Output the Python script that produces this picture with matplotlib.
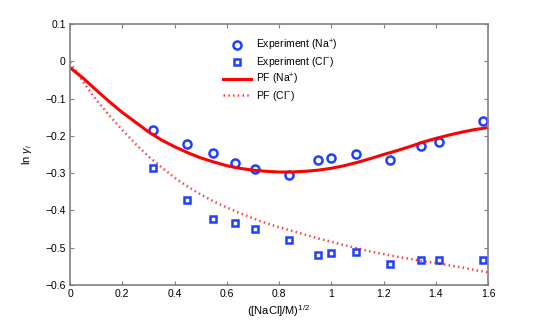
import matplotlib
matplotlib.use('Agg')
import matplotlib.pyplot as plt
from matplotlib.ticker import FuncFormatter
import numpy as np

plt.rcParams['font.family'] = ['Liberation Sans', 'DejaVu Sans']
plt.rcParams['mathtext.fontset'] = 'custom'
plt.rcParams['mathtext.rm'] = 'Liberation Sans'
plt.rcParams['mathtext.it'] = 'Liberation Sans:italic'

# experiment, x = sqrt(c)
x_exp = [0.316, 0.447, 0.548, 0.632, 0.707, 0.837, 0.949, 1.0, 1.095, 1.225, 1.342, 1.414, 1.581]
na_exp = [-0.184, -0.221, -0.245, -0.274, -0.289, -0.305, -0.266, -0.260, -0.249, -0.266, -0.228, -0.217, -0.160]
cl_exp = [-0.287, -0.371, -0.422, -0.434, -0.449, -0.478, -0.519, -0.515, -0.511, -0.545, -0.533, -0.532, -0.534]

x_pf = [0.0, 0.05, 0.1, 0.15, 0.2, 0.25, 0.3, 0.35, 0.4, 0.45, 0.5, 0.55, 0.6, 0.65, 0.7, 0.75, 0.8,
        0.85, 0.9, 0.95, 1.0, 1.05, 1.1, 1.15, 1.2, 1.25, 1.3, 1.35, 1.4, 1.45, 1.5, 1.55, 1.6]
na_pf = [-0.017, -0.045, -0.077, -0.108, -0.137, -0.163, -0.189, -0.211, -0.229, -0.245, -0.259,
         -0.270, -0.280, -0.287, -0.292, -0.295, -0.297, -0.297, -0.295, -0.292, -0.287, -0.280,
         -0.271, -0.261, -0.250, -0.240, -0.229, -0.217, -0.207, -0.198, -0.190, -0.183, -0.178]
cl_pf = [-0.003, -0.055, -0.103, -0.145, -0.184, -0.221, -0.255, -0.284, -0.312, -0.336, -0.357,
         -0.376, -0.392, -0.407, -0.421, -0.434, -0.445, -0.455, -0.465, -0.475, -0.484, -0.493,
         -0.502, -0.510, -0.517, -0.524, -0.530, -0.536, -0.541, -0.547, -0.553, -0.560, -0.566]

blue = '#2040ff'
grey = '#808080'

fig = plt.figure(figsize=(5.39, 3.21), dpi=100)
ax = fig.add_axes([70/539, 1-285/321, 418/539, 261/321])

ax.plot(x_exp, na_exp, 'o', ms=5.8, mew=1.8, mec=blue, mfc='none', label='Experiment (Na$^{+}$)')
ax.plot(x_exp, cl_exp, 's', ms=4.8, mew=1.8, mec=blue, mfc='none', label='Experiment (Cl$^{-}$)')
ax.plot(x_pf, na_pf, '-', color='red', lw=2.2, label='PF (Na$^{+}$)')
ax.plot(x_pf, cl_pf, color='red', lw=1.8, ls=(0, (0.6, 1.3)), alpha=0.75, label='PF (Cl$^{-}$)')

ax.set_xlim(0, 1.6)
ax.set_ylim(-0.6, 0.1)
ax.set_xticks(np.arange(0, 1.61, 0.2))
ax.set_yticks(np.arange(-0.6, 0.11, 0.1))

fmt = FuncFormatter(lambda v, p: ('%g' % (round(v, 2) + 0.0)).replace('-', '\u2212'))
ax.xaxis.set_major_formatter(fmt)
ax.yaxis.set_major_formatter(fmt)

ax.tick_params(direction='in', length=3, width=0.8, color=grey, labelsize=7.5,
               top=True, right=True, pad=3)
for s in ax.spines.values():
    s.set_color(grey)
    s.set_linewidth(1.2)

ax.set_xlabel('([NaCl]/M)$^{1/2}$', fontsize=8, labelpad=3)
ax.set_ylabel('ln $\\gamma_i$', fontsize=8, labelpad=8)

ax.legend(loc='upper left', bbox_to_anchor=(223/539, 1-38/321), bbox_transform=fig.transFigure,
          frameon=False, fontsize=7.5, handlelength=2.7, handletextpad=0.45,
          labelspacing=0.2, borderpad=0, borderaxespad=0)

fig.savefig('out.png', dpi=100)
